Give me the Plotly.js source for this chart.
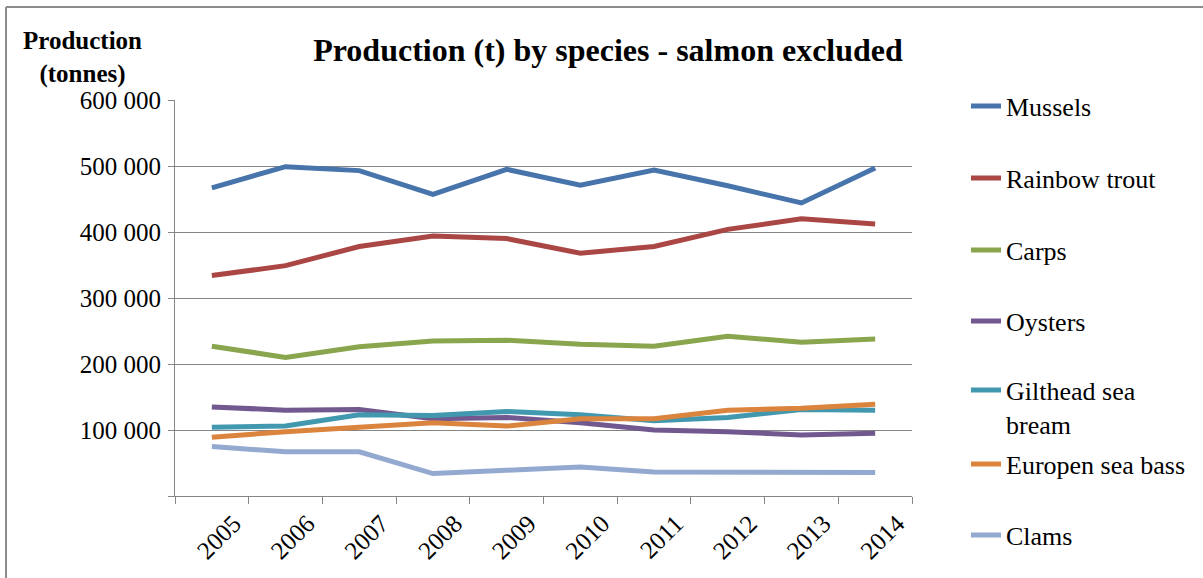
<!DOCTYPE html>
<html>
<head>
<meta charset="utf-8">
<script src="https://cdn.plot.ly/plotly-3.0.1.min.js"></script>
<style>html,body{margin:0;padding:0;background:#fff;}#chart{width:1203px;height:578px;}</style>
</head>
<body>
<div id="chart"></div>
<script>
const years = ['2005','2006','2007','2008','2009','2010','2011','2012','2013','2014'];
const seriesNames = ['Mussels','Rainbow trout','Carps','Oysters','Gilthead sea<br>bream','Europen sea bass','Clams'];
const mussels      = [467000, 499000, 493000, 457000, 495000, 471000, 494000, 470000, 444000, 497000];
const rainbowTrout = [334000, 349000, 378000, 394000, 390000, 368000, 378000, 404000, 420000, 412000];
const carps        = [227000, 210000, 226000, 235000, 236000, 230000, 227000, 242000, 233000, 238000];
const oysters      = [135000, 130000, 131000, 117000, 119000, 111000, 100000, 97500, 92500, 95000];
const gilthead     = [104000, 106000, 123000, 122000, 128000, 123000, 114000, 119000, 131000, 130000];
const seaBass      = [89000, 97500, 104000, 111000, 106000, 117000, 117000, 130000, 133000, 139000];
const clams        = [75000, 67000, 67000, 34000, 39000, 44000, 36500, 36000, 36000, 35500];
const yTickVals  = [0, 100000, 200000, 300000, 400000, 500000, 600000];
const yTickText  = ['', '100 000', '200 000', '300 000', '400 000', '500 000', '600 000'];

const allSeries = [mussels, rainbowTrout, carps, oysters, gilthead, seaBass, clams];
const colors = ['#4674AB', '#AA4643', '#89A54E', '#71588F', '#4198AF', '#DB843D', '#93A9CF'];

// plot area in pixels
const W = 1203, H = 578, L = 175, R = 912, T = 100, B = 496;
const px = x => (x - L) / (R - L);
const py = y => (B - y) / (B - T);

const legendKeys = ['legend','legend2','legend3','legend4','legend5','legend6','legend7'];
const legendY = [106, 178, 250, 321, 407, 464, 535];

const traces = allSeries.map((vals, i) => ({
  type: 'scatter', mode: 'lines', name: seriesNames[i],
  x: years, y: vals,
  line: {color: colors[i], width: 5, shape: 'linear'},
  legend: legendKeys[i],
  hoverinfo: 'x+y+name'
}));

const FONT = '"Liberation Serif", "Times New Roman", serif';
const layout = {
  width: W, height: H,
  margin: {l: L, r: W - R, t: T, b: H - B, pad: 0},
  paper_bgcolor: '#ffffff', plot_bgcolor: '#ffffff',
  font: {family: FONT, color: '#000', size: 24},
  title: {
    text: '<b>Production (t) by species - salmon excluded</b>',
    font: {family: FONT, size: 32, color: '#000'},
    xref: 'paper', yref: 'paper', x: px(608), y: py(47), xanchor: 'center', yanchor: 'middle'
  },
  xaxis: {
    type: 'category', categoryorder: 'array', categoryarray: years,
    range: [-0.5, 9.5], tickson: 'boundaries',
    ticks: 'outside', ticklen: 7, tickcolor: '#868686', tickwidth: 1,
    showline: true, linecolor: '#868686', linewidth: 1,
    showgrid: false, zeroline: false,
    tickangle: -45, tickfont: {family: FONT, size: 25, color: '#000'},
    ticklabelshift: 22, ticklabelstandoff: 2
  },
  yaxis: {
    range: [0, 600000], tickmode: 'array', tickvals: yTickVals, ticktext: yTickText,
    ticks: 'outside', ticklen: 6, tickcolor: '#868686', tickwidth: 1,
    showline: true, linecolor: '#868686', linewidth: 1,
    showgrid: true, gridcolor: '#868686', gridwidth: 1, zeroline: false,
    tickfont: {family: FONT, size: 25, color: '#000'}, ticklabelstandoff: 2
  },
  annotations: [{
    text: '<b>Production<br>(tonnes)</b>', xref: 'paper', yref: 'paper',
    x: px(82), y: py(57), xanchor: 'center', yanchor: 'middle', showarrow: false,
    font: {family: FONT, size: 25, color: '#000'}, align: 'center'
  }],
  shapes: [
    {type: 'line', xref: 'paper', yref: 'paper', x0: px(6), x1: px(1210), y0: py(7), y1: py(7), line: {color: '#8c8c8c', width: 2}},
    {type: 'line', xref: 'paper', yref: 'paper', x0: px(6), x1: px(6), y0: py(7), y1: py(590), line: {color: '#8c8c8c', width: 2}}
  ],
  showlegend: true
};

legendKeys.forEach((k, i) => {
  layout[k] = {
    x: px(966), y: py(legendY[i]), xanchor: 'left', yanchor: 'middle',
    xref: 'paper', yref: 'paper',
    bgcolor: 'rgba(0,0,0,0)', borderwidth: 0,
    font: {family: FONT, size: 26, color: '#000'},
    valign: 'top', itemwidth: 30
  };
});

Plotly.newPlot('chart', traces, layout, {displayModeBar: false, responsive: false});
</script>
</body>
</html>
